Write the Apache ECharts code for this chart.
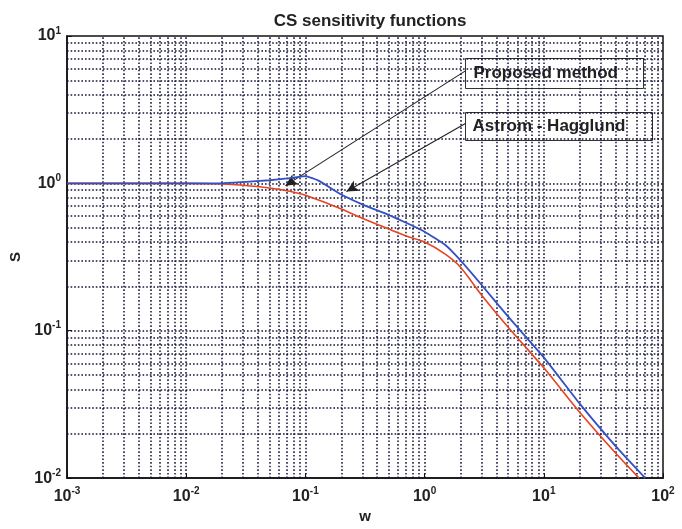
<!DOCTYPE html>
<html>
<head>
<meta charset="utf-8">
<script src="https://cdn.jsdelivr.net/npm/echarts@6/dist/echarts.min.js"></script>
<style>
  html, body { margin: 0; padding: 0; background: #fff; }
  #chart { width: 682px; height: 529px; }
</style>
</head>
<body>
<div id="chart"></div>
<script>
// frequency points (w) and the two sensitivity curves
var wProposed = [0.001, 0.01, 0.02, 0.03, 0.05, 0.07, 0.1, 0.13, 0.2, 0.3, 0.5, 0.7, 1, 1.5, 2, 3, 5, 10, 20, 40, 71];
var sProposed = [1, 1, 1.0, 1.02, 1.05, 1.08, 1.12, 1.04, 0.84, 0.72, 0.61, 0.54, 0.47, 0.38, 0.30, 0.205, 0.125, 0.066, 0.032, 0.0165, 0.01];

var wAstrom = [0.001, 0.01, 0.02, 0.03, 0.05, 0.07, 0.1, 0.2, 0.3, 0.5, 0.7, 1, 1.5, 2, 3, 5, 10, 20, 40, 63];
var sAstrom = [1, 1, 0.99, 0.97, 0.93, 0.89, 0.83, 0.67, 0.58, 0.49, 0.44, 0.40, 0.33, 0.27, 0.175, 0.106, 0.056, 0.028, 0.0148, 0.01];

// axis ranges and decades for the grid (1..9 x 10^k)
var xRange = [0.001, 100];
var yRange = [0.01, 10];
var xDecades = [0.001, 0.01, 0.1, 1, 10];
var yDecades = [0.01, 0.1, 1];

// annotation arrows: [from, to] in data coords
var arrowProposed = [[2.2, 5.8], [0.068, 0.965]];
var arrowAstrom = [[2.2, 2.55], [0.221, 0.88]];

function pairs(xs, ys) {
    return xs.map(function (x, i) { return [x, ys[i]]; });
}

function gridValues(decades) {
    var out = [];
    decades.forEach(function (d) {
        for (var k = 1; k <= 9; k++) out.push(d * k);
    });
    return out;
}

function gridLines() {
    var out = [];
    gridValues(xDecades).slice(1).forEach(function (v) {
        out.push([{ coord: [v, yRange[0]] }, { coord: [v, yRange[1]] }]);
    });
    gridValues(yDecades).slice(1).forEach(function (v) {
        out.push([{ coord: [xRange[0], v] }, { coord: [xRange[1], v] }]);
    });
    return out;
}

function powLabel(v) {
    var e = Math.round(Math.log(v) / Math.LN10);
    return '{b|10}{s|' + e + '}';
}

var gridColor = '#15153a';
var dotted = { color: gridColor, type: [1.6, 2], width: 1.5 };

var richLabel = {
    b: { fontSize: 16, fontWeight: 'bold', color: '#222', fontFamily: 'Liberation Sans' },
    s: { fontSize: 10, fontWeight: 'bold', color: '#222', fontFamily: 'Liberation Sans', verticalAlign: 'top', padding: [0, 0, 10, 0] }
};

var chart = echarts.init(document.getElementById('chart'));

var option = {
    animation: false,
    backgroundColor: '#fff',
    title: {
        text: 'CS sensitivity functions',
        left: 365,
        textAlign: 'center',
        top: 8,
        textStyle: { fontSize: 17, fontWeight: 'bold', color: '#222', fontFamily: 'Liberation Sans' }
    },
    grid: {
        left: 67, right: 19, top: 36, bottom: 45,
        show: true, borderColor: '#111', borderWidth: 1.5, backgroundColor: 'transparent'
    },
    xAxis: {
        type: 'log', logBase: 10, min: xRange[0], max: xRange[1],
        name: 'w', nameLocation: 'middle', nameGap: 28,
        nameTextStyle: { fontSize: 15, fontWeight: 'bold', color: '#222', fontFamily: 'Liberation Sans' },
        axisLine: { lineStyle: { color: '#111', width: 1.5 } },
        axisTick: { inside: true, length: 5, lineStyle: { color: '#111' } },
        axisLabel: { formatter: powLabel, rich: richLabel, margin: 8 },
        splitLine: { show: false }
    },
    yAxis: {
        type: 'log', logBase: 10, min: yRange[0], max: yRange[1],
        name: 'S', nameLocation: 'middle', nameGap: 42, nameRotate: 90,
        nameTextStyle: { fontSize: 15, fontWeight: 'bold', color: '#222', fontFamily: 'Liberation Sans' },
        axisLine: { lineStyle: { color: '#111', width: 1.5 } },
        axisTick: { inside: true, length: 5, lineStyle: { color: '#111' } },
        axisLabel: { formatter: powLabel, rich: richLabel, margin: 6 },
        splitLine: { show: false }
    },
    series: [{
        // major + minor grid
        type: 'line', data: [], silent: true,
        markLine: {
            silent: true, symbol: 'none', animation: false,
            label: { show: false },
            lineStyle: dotted,
            data: gridLines()
        }
    }, {
        name: 'Astrom - Hagglund',
        type: 'line', smooth: 0.3, symbol: 'none', zlevel: 1,
        lineStyle: { color: '#e8431f', width: 1.6 },
        data: pairs(wAstrom, sAstrom)
    }, {
        name: 'Proposed method',
        type: 'line', smooth: 0.12, symbol: 'none', zlevel: 1,
        lineStyle: { color: '#3350c4', width: 1.8 },
        data: pairs(wProposed, sProposed),
        markLine: {
            silent: true, symbol: ['none', 'arrow'], symbolSize: [9, 12],
            label: { show: false },
            lineStyle: { color: '#222', type: 'solid', width: 1.1 },
            data: [
                [{ coord: arrowProposed[0] }, { coord: arrowProposed[1] }],
                [{ coord: arrowAstrom[0] }, { coord: arrowAstrom[1] }]
            ]
        }
    }],
    graphic: [{
        type: 'group', left: 465, top: 58, z: 20,
        children: [{
            type: 'rect', shape: { x: 0, y: 0, width: 178, height: 30 },
            style: { fill: '#fff', stroke: '#333', lineWidth: 1 }
        }, {
            type: 'text', x: 8, y: 6,
            style: { text: 'Proposed method', fill: '#222', font: 'bold 17px "Liberation Sans"' }
        }]
    }, {
        type: 'group', left: 465, top: 112, z: 20,
        children: [{
            type: 'rect', shape: { x: 0, y: 0, width: 187, height: 28 },
            style: { fill: '#fff', stroke: '#333', lineWidth: 1 }
        }, {
            type: 'text', x: 7, y: 5,
            style: { text: 'Astrom - Hagglund', fill: '#222', font: 'bold 17px "Liberation Sans"' }
        }]
    }]
};

chart.setOption(option);
</script>
</body>
</html>
